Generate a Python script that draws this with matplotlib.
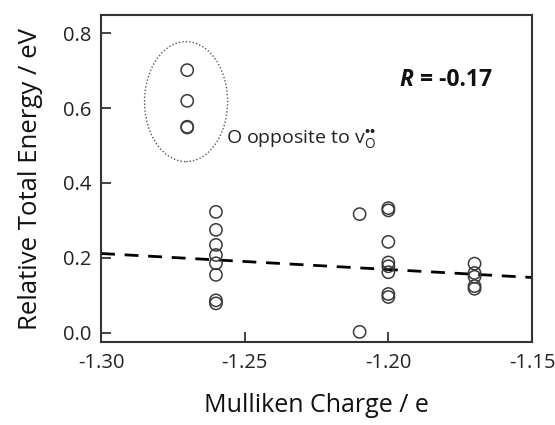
import matplotlib
matplotlib.use("Agg")
import matplotlib.pyplot as plt
from matplotlib.patches import Ellipse

plt.rcParams['font.family'] = ['Open Sans', 'DejaVu Sans']
plt.rcParams['mathtext.fontset'] = 'custom'
plt.rcParams['mathtext.rm'] = 'Open Sans'
plt.rcParams['mathtext.it'] = 'Open Sans:italic'
plt.rcParams['mathtext.bf'] = 'Open Sans:bold'

# Data (Mulliken charge, relative total energy)
charge_a = [-1.26] * 8
energy_a = [0.323, 0.275, 0.235, 0.208, 0.186, 0.155, 0.087, 0.079]
charge_b = [-1.21, -1.21]
energy_b = [0.317, 0.003]
charge_c = [-1.20] * 8
energy_c = [0.333, 0.327, 0.243, 0.188, 0.178, 0.162, 0.104, 0.096]
charge_d = [-1.17] * 5
energy_d = [0.185, 0.160, 0.150, 0.125, 0.118]
charge_o = [-1.27, -1.27, -1.27, -1.27]
energy_o = [0.701, 0.619, 0.550, 0.548]

fit_x = [-1.30, -1.15]
fit_y = [0.212, 0.148]

xticks = [-1.30, -1.25, -1.20, -1.15]
xticklabels = ['-1.30', '-1.25', '-1.20', '-1.15']
yticks = [0.0, 0.2, 0.4, 0.6, 0.8]
yticklabels = ['0.0', '0.2', '0.4', '0.6', '0.8']

fig = plt.figure(figsize=(5.55, 4.25), dpi=100)
ax = fig.add_axes([0.182, 0.1953, 0.9586 - 0.182, 0.9647 - 0.1953])

xs = charge_a + charge_b + charge_c + charge_d + charge_o
ys = energy_a + energy_b + energy_c + energy_d + energy_o
ax.scatter(xs, ys, s=78, facecolors='none', edgecolors='#3a3a3a', linewidths=1.1, zorder=3)

ax.plot(fit_x, fit_y, color='black', lw=2.0, dashes=(5, 3.5), zorder=2)

ell = Ellipse((-1.2704, 0.617), 0.0289, 0.32, fill=False, ls=(0, (1, 1.5)),
              lw=1.0, edgecolor='#555555')
ax.add_patch(ell)

ax.text(-1.2565, 0.52, r'O opposite to $\mathrm{v}_{\mathrm{O}}^{\mathbf{••}}$', fontsize=14,
        va='center', ha='left', color='#222222')

t = ax.text(-1.196, 0.675, 'R', fontsize=16.5, fontweight='bold', style='italic',
            va='center', ha='left', color='#111111')
ax.annotate(' = -0.17', xy=(1, 0.5), xycoords=t, va='center', ha='left',
            fontsize=16.5, fontweight='bold', color='#111111')

ax.set_xlim(-1.30, -1.15)
ax.set_ylim(-0.024, 0.848)
ax.set_xticks(xticks)
ax.set_xticklabels(xticklabels)
ax.set_yticks(yticks)
ax.set_yticklabels(yticklabels)
ax.tick_params(direction='in', length=7, width=1.2, labelsize=14.5, colors='#222222')
ax.tick_params(axis='x', pad=8)
ax.tick_params(axis='y', pad=7)
for sp in ax.spines.values():
    sp.set_linewidth(1.5)
    sp.set_color('#333333')

ax.set_xlabel('Mulliken Charge / e', fontsize=18, labelpad=14, color='#111111')
ax.set_ylabel('Relative Total Energy / eV', fontsize=18.5, labelpad=14, color='#111111')

fig.savefig('out.png', dpi=100)
